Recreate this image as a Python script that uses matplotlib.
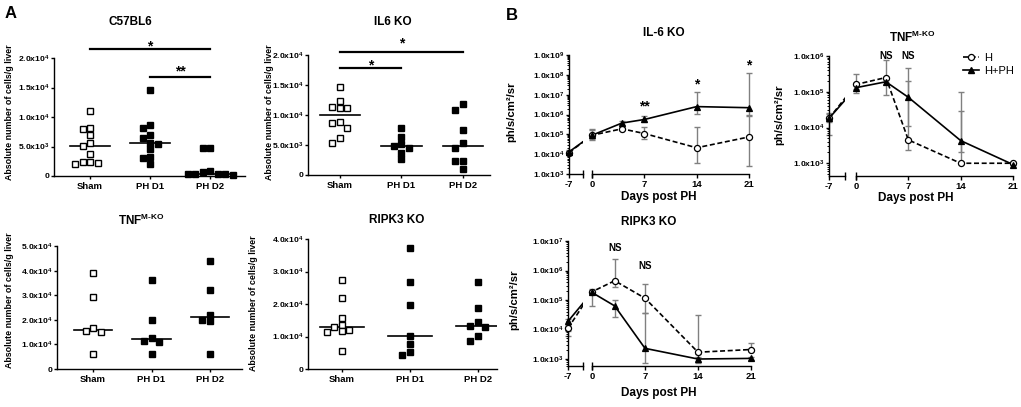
import numpy as np
import matplotlib
matplotlib.use('Agg')
import matplotlib.pyplot as plt
from matplotlib.ticker import FuncFormatter, LogLocator, NullFormatter
from matplotlib.lines import Line2D

plt.rcParams['font.family'] = ['Liberation Sans', 'DejaVu Sans']
plt.rcParams['font.weight'] = 'bold'
plt.rcParams['mathtext.fontset'] = 'custom'
plt.rcParams['mathtext.rm'] = 'Liberation Sans:bold'
plt.rcParams['mathtext.bf'] = 'Liberation Sans:bold'
plt.rcParams['mathtext.default'] = 'regular'
plt.rcParams['axes.linewidth'] = 1.0

W, H = 1021, 407
GROUPS = ['Sham', 'PH D1', 'PH D2']

# Panel A: absolute number of cells/g liver (x 1e3)
c57_sham = [11.0, 8.2, 7.9, 6.9, 5.6, 5.1, 3.8, 2.4, 2.4, 2.2, 2.0]
c57_phd1 = [14.6, 8.6, 8.2, 7.0, 6.5, 5.6, 5.5, 4.5, 3.2, 3.0, 2.0]
c57_phd2 = [4.8, 4.7, 0.8, 0.6, 0.4, 0.4, 0.4, 0.3, 0.1]

il6_sham = [14.6, 12.3, 11.4, 11.2, 11.2, 8.8, 8.7, 7.9, 6.2, 5.4]
il6_phd1 = [7.8, 6.3, 5.2, 4.9, 4.5, 3.6, 2.6]
il6_phd2 = [11.8, 10.9, 7.5, 5.3, 4.5, 2.3, 2.3, 1.0]

tnf_sham = [39.0, 29.3, 16.5, 15.5, 15.0, 6.3]
tnf_phd1 = [36.0, 20.0, 12.8, 11.2, 10.8, 6.0]
tnf_phd2 = [44.0, 32.0, 22.0, 20.0, 19.5, 6.2]

ripk3_sham = [27.5, 21.8, 15.6, 13.6, 12.8, 11.9, 11.6, 11.4, 5.4]
ripk3_phd1 = [37.2, 26.7, 19.7, 10.3, 7.7, 5.2, 4.2]
ripk3_phd2 = [26.7, 18.8, 14.4, 13.1, 12.8, 10.3, 8.7]

# significance: (group a, group b, bar y, label y, label), values x 1e3
c57_sig = [(0, 2, 21.5, 22.0, '*'), (1, 2, 16.8, 17.8, '**')]
il6_sig = [(0, 2, 20.5, 22.0, '*'), (0, 1, 17.8, 18.3, '*')]

# Panel B: bioluminescence (ph/s/cm2/sr), mean with error bar ends
DAYS = [-7, 0, 4, 7, 14, 21]
DAYS_RIPK3 = [-7, 0, 3, 7, 14, 21]
DAY_TICKS = [0, 7, 14, 21]

il6_h = [1.2e4, 9.0e4, 1.9e5, 1.1e5, 2.1e4, 7.4e4]
il6_h_lo = [0.9e4, 5.0e4, 1.6e5, 6.0e4, 3.5e3, 2.5e3]
il6_h_hi = [1.5e4, 1.9e5, 2.3e5, 2.3e5, 2.3e5, 8.0e5]
il6_hph = [1.3e4, 9.0e4, 3.7e5, 5.6e5, 2.5e6, 2.2e6]
il6_hph_lo = [1.0e4, 6.0e4, 2.8e5, 4.1e5, 1.1e6, 1.0e6]
il6_hph_hi = [1.6e4, 1.6e5, 4.6e5, 8.6e5, 1.3e7, 1.2e8]
il6_stars = [(7, 2.4e6, '**'), (14, 3.2e7, '*'), (21, 3.1e8, '*')]

tnf_h = [1.8e4, 1.6e5, 2.5e5, 4.5e3, 1.0e3, 1.0e3]
tnf_h_lo = [1.4e4, 1.2e5, 1.9e5, 2.3e3, 1.0e3, 1.0e3]
tnf_h_hi = [2.4e4, 3.2e5, 7.5e5, 2.0e5, 2.9e4, 1.0e3]
tnf_hph = [1.8e4, 1.3e5, 1.9e5, 7.0e4, 4.3e3, 9.2e2]
tnf_hph_lo = [6.2e3, 9.0e4, 8.0e4, 1.1e4, 2.0e3, 9.0e2]
tnf_hph_hi = [2.5e4, 1.6e5, 2.4e5, 4.7e5, 1.0e5, 9.5e2]
tnf_stars = [(4, 1.0e6, 'NS'), (7, 1.0e6, 'NS')]

ripk3_h = [1.1e4, 1.9e5, 4.5e5, 1.15e5, 1.7e3, 2.1e3]
ripk3_h_lo = [0.9e4, 1.6e5, 2.7e5, 3.6e4, 1.5e3, 1.8e3]
ripk3_h_hi = [1.4e4, 2.3e5, 2.4e6, 3.6e5, 3.0e4, 3.5e3]
ripk3_hph = [1.9e4, 1.8e5, 6.3e4, 2.3e3, 1.0e3, 1.05e3]
ripk3_hph_lo = [6.0e3, 6.3e4, 2.7e4, 7.4e2, 7.4e2, 9.5e2]
ripk3_hph_hi = [2.2e4, 2.2e5, 1.0e5, 3.6e4, 1.2e3, 1.2e3]
ripk3_stars = [(3, 6.0e6, 'NS'), (7, 1.4e6, 'NS')]

fig = plt.figure(figsize=(W / 100, H / 100), dpi=100)


def px_axes(left, top, right, bottom):
    return fig.add_axes([left / W, 1 - bottom / H, (right - left) / W, (bottom - top) / H])


def px_text(x, y, s, **kw):
    kw.setdefault('ha', 'center')
    kw.setdefault('va', 'center')
    fig.text(x / W, 1 - y / H, s, **kw)


def sci_label(v, pos=None):
    if v <= 0:
        return '0'
    e = int(np.floor(np.log10(v) + 1e-9))
    return f'{v / 10**e:.1f}x10$^{{{e}}}$'


def swarm_offsets(values, sep, step):
    # simple beeswarm: points too close in y are pushed sideways
    order = np.argsort(values)[::-1]
    placed = []
    offs = np.zeros(len(values))
    for i in order:
        for k in [0, -1, 1, -2, 2, -3, 3]:
            if all(abs(values[i] - v) >= sep for v, kk in placed if kk == k):
                break
        offs[i] = k * step
        placed.append((values[i], k))
    return offs


def scatter_panel(box, groups, ymax, ystep, xlim, sig=()):
    left, top, right, bottom = box
    ax = px_axes(*box)
    ax.set_xlim(*xlim)
    ax.set_ylim(0, ymax)
    px_x = (right - left) / (xlim[1] - xlim[0])
    px_y = (bottom - top) / ymax
    for i, vals in enumerate(groups):
        vals = np.asarray(vals) * 1e3
        offs = swarm_offsets(vals, 6.0 / px_y, 7.5 / px_x)
        face = 'white' if i == 0 else 'black'
        ax.plot(i + offs, vals, ls='none', marker='s', ms=3.9, mfc=face,
                mec='black', mew=1.0, clip_on=False, zorder=3)
        med = np.median(vals)
        ax.plot([i - 0.33, i + 0.33], [med, med], color='black', lw=1.2, zorder=2)
    for a, b, ybar, ylab, lab in sig:
        ax.plot([a, b], [ybar * 1e3, ybar * 1e3], color='black', lw=1.6, clip_on=False)
        ax.text((a + b) / 2, ylab * 1e3, lab, ha='center', va='center',
                fontsize=10, fontweight='bold', clip_on=False)
    ax.set_xticks(range(len(GROUPS)), GROUPS)
    ax.set_yticks(np.arange(0, ymax + 1, ystep))
    ax.yaxis.set_major_formatter(FuncFormatter(sci_label))
    ax.tick_params(axis='y', labelsize=6.1, length=2.2, width=1, pad=1.0)
    ax.tick_params(axis='x', labelsize=6.8, length=2.5, width=1, pad=1.5)
    ax.spines['top'].set_visible(False)
    ax.spines['right'].set_visible(False)
    return ax


def draw_series(axL, axR, days, mean, lo, hi, marker, mfc, ls):
    days = np.asarray(days, dtype=float)
    mean = np.asarray(mean)
    yerr = np.vstack([mean - np.asarray(lo), np.asarray(hi) - mean])
    for ax, sl in ((axL, slice(0, 1)), (axR, slice(1, None))):
        eb = ax.errorbar(days[sl], mean[sl], yerr=yerr[:, sl], fmt='none', ecolor='#808080',
                         elinewidth=1.0, capsize=2.2, capthick=1.0, zorder=1)
        for art in list(eb[1]) + list(eb[2]):
            art.set_clip_on(False)
        ax.plot(days, mean, color='black', lw=1.2, ls=ls, zorder=2)
        ax.plot(days[sl], mean[sl], ls='none', marker=marker, ms=4.4, mfc=mfc,
                mec='black', mew=0.9, clip_on=False, zorder=3)


def time_panel(xm7, xbrk, x0, x21, top, bottom, ylim, days, h, hph, labels):
    axL = px_axes(xm7, top, xbrk, bottom)
    axR = px_axes(x0, top, x21, bottom)
    axL.set_xlim(-7, -7 + 7 * (xbrk - xm7) / (x0 - xm7))
    axR.set_xlim(0, 21)
    for ax in (axL, axR):
        ax.set_yscale('log')
        ax.set_ylim(*ylim)
        ax.spines['top'].set_visible(False)
        ax.spines['right'].set_visible(False)
        ax.tick_params(axis='x', labelsize=6.8, length=3, width=1, pad=1.5)
    axL.set_xticks([-7], ['-7'])
    axR.set_xticks(DAY_TICKS, [str(d) for d in DAY_TICKS])
    axR.spines['left'].set_visible(False)
    axR.yaxis.set_visible(False)
    axL.yaxis.set_major_locator(LogLocator(base=10, numticks=20))
    axL.yaxis.set_minor_locator(LogLocator(base=10, subs=np.arange(2, 10), numticks=100))
    axL.yaxis.set_major_formatter(FuncFormatter(sci_label))
    axL.yaxis.set_minor_formatter(NullFormatter())
    axL.tick_params(axis='y', which='major', labelsize=6.1, length=2.5, width=1, pad=1.0)
    axL.tick_params(axis='y', which='minor', length=1.8, width=0.7)
    # axis break marks
    axL.plot([1], [0], marker='|', ms=6, mew=1.0, color='black', transform=axL.transAxes, clip_on=False)
    axR.plot([0], [0], marker='|', ms=6, mew=1.0, color='black', transform=axR.transAxes, clip_on=False)
    draw_series(axL, axR, days, *h, marker='o', mfc='white', ls=(0, (3, 1.6)))
    draw_series(axL, axR, days, *hph, marker='^', mfc='black', ls='-')
    for d, y, lab in labels:
        size = 7 if lab == 'NS' else 10
        axR.text(d, y, lab, ha='center', va='center', fontsize=size, fontweight='bold', clip_on=False)
    return axL, axR


# ---- panel A ----
scatter_panel((54, 58, 245, 176), [c57_sham, c57_phd1, c57_phd2], 2e4, 5e3, (-0.6, 2.58), c57_sig)
scatter_panel((308, 55, 490, 175), [il6_sham, il6_phd1, il6_phd2], 2e4, 5e3, (-0.52, 2.44), il6_sig)
scatter_panel((57, 246, 242, 369), [tnf_sham, tnf_phd1, tnf_phd2], 5e4, 1e4, (-0.62, 2.55))
scatter_panel((308, 239, 497, 369), [ripk3_sham, ripk3_phd1, ripk3_phd2], 4e4, 1e4, (-0.5, 2.28))

ylab_a = 'Absolute number of cells/g liver'
for x, y in [(10, 112), (269, 112), (10, 300), (254, 303)]:
    px_text(x, y, ylab_a, rotation=90, fontsize=6.4, fontweight='bold')

px_text(130, 22, 'C57BL6', fontsize=8.5, fontweight='bold')
px_text(393, 22, 'IL6 KO', fontsize=8.5, fontweight='bold')
px_text(141, 220, 'TNF$^{M\u2010KO}$', fontsize=8.5, fontweight='bold')
px_text(397, 220, 'RIPK3 KO', fontsize=8.5, fontweight='bold')

# ---- panel B ----
time_panel(569, 583, 592, 749, 55, 174, (1e3, 1e9), DAYS,
           (il6_h, il6_h_lo, il6_h_hi), (il6_hph, il6_hph_lo, il6_hph_hi), il6_stars)
time_panel(829, 845, 856, 1013, 56, 176, (4.4e2, 1e6), DAYS,
           (tnf_h, tnf_h_lo, tnf_h_hi), (tnf_hph, tnf_hph_lo, tnf_hph_hi), tnf_stars)
time_panel(568, 583, 592, 751, 241, 366, (5.8e2, 1e7), DAYS_RIPK3,
           (ripk3_h, ripk3_h_lo, ripk3_h_hi), (ripk3_hph, ripk3_hph_lo, ripk3_hph_hi), ripk3_stars)

ylab_b = 'ph/s/cm\u00b2/sr'
for x, y in [(511, 112), (779, 115), (514, 300)]:
    px_text(x, y, ylab_b, rotation=90, fontsize=8.2, fontweight='bold')
for x, y in [(659, 197), (916, 198), (659, 393)]:
    px_text(x, y, 'Days post PH', fontsize=8.5, fontweight='bold')

px_text(664, 33, 'IL-6 KO', fontsize=8.5, fontweight='bold')
px_text(912, 37, 'TNF$^{M\u2010KO}$', fontsize=8.5, fontweight='bold')
px_text(649, 222, 'RIPK3 KO', fontsize=8.5, fontweight='bold')

handles = [Line2D([], [], color='black', lw=1.2, ls=(0, (3, 1.6)), marker='o', ms=4.4,
                  mfc='white', mec='black', mew=0.9),
           Line2D([], [], color='black', lw=1.2, marker='^', ms=4.4, mfc='black', mec='black')]
fig.legend(handles, ['H', 'H+PH'], loc='upper left', bbox_to_anchor=(963 / W, 1 - 53 / H),
           frameon=False, prop={'weight': 'normal', 'size': 8}, handlelength=1.4,
           handletextpad=0.5, labelspacing=0.25, borderpad=0, borderaxespad=0)

px_text(11, 14, 'A', fontsize=12, fontweight='bold')
px_text(512, 15, 'B', fontsize=12, fontweight='bold')

fig.savefig('out.png', dpi=100)
